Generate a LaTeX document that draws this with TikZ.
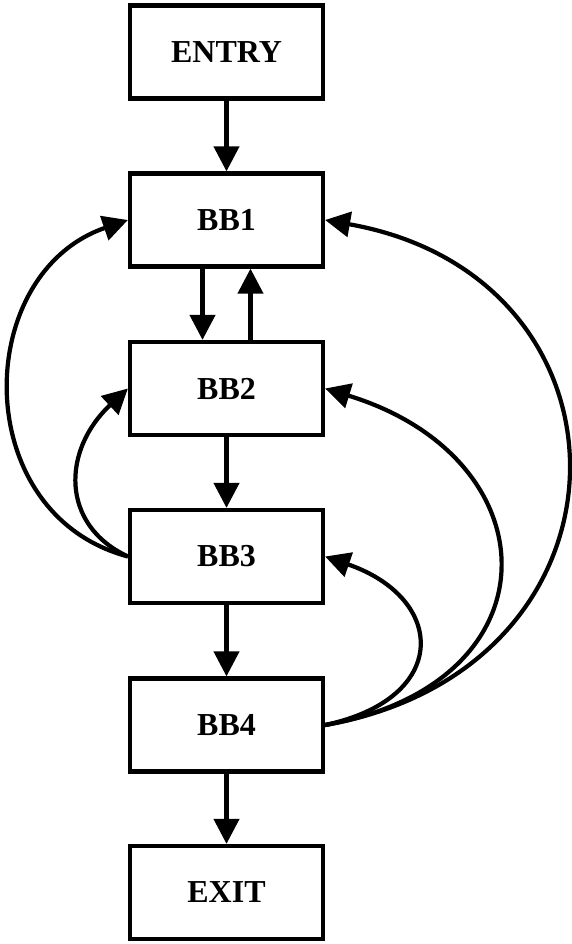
\documentclass[tikz,border=0pt]{standalone}
\usepackage{fontspec}
\setmainfont{Liberation Serif}
\usetikzlibrary{arrows.meta}

\tikzset{
	block/.style={draw=black, rectangle, line width=2.4pt, minimum width=3.86cm, minimum height=1.86cm, font=\fontsize{18.2}{20}\selectfont\bfseries},
	flow/.style={line width=2.4pt, -{Triangle[length=0.5cm,width=0.5cm]}}
}

\begin{document}
\begin{tikzpicture}
	\useasboundingbox[fill=white] (0,0) rectangle (11.42,-18.88);
	
	\node (entry) [block] at (4.53,-1.04){ENTRY};
	\node (bb1) [block] at (4.53,-4.40){BB1};
	\node (bb2) [block] at (4.53,-7.77){BB2};
	\node (bb3) [block] at (4.53,-11.13){BB3};
	\node (bb4) [block] at (4.53,-14.50){BB4};
	\node (exit) [block] at (4.53,-17.85){EXIT};
	
	\draw[flow] (entry)--(bb1);
	\draw[flow] ([xshift=-0.48cm]bb1.south)--([xshift=-0.48cm]bb2.north);
	\draw[flow] ([xshift=0.48cm]bb2.north)--([xshift=0.48cm]bb1.south);
	\draw[flow] (bb2)--(bb3);
	\draw[flow] (bb3)--(bb4);
	\draw[flow] (bb4)--(exit);
	
	% back edges on the left
	\draw[flow] (bb3.west) .. controls +(165:3.3) and +(199:3.3) .. (bb1.west);
	\draw[flow] (bb3.west) .. controls +(155:1.5) and +(223:1.8) .. (bb2.west);
	
	% back edges on the right, all leaving bb4
	\draw[flow] (bb4.east) .. controls +(12:2.57) and +(-19:2.57) .. (bb3.east);
	\draw[flow] (bb4.east) .. controls +(10:4.77) and +(-17:4.77) .. (bb2.east);
	\draw[flow] (bb4.east) .. controls +(10:6.55) and +(-10:6.55) .. (bb1.east);
\end{tikzpicture}
\end{document}
